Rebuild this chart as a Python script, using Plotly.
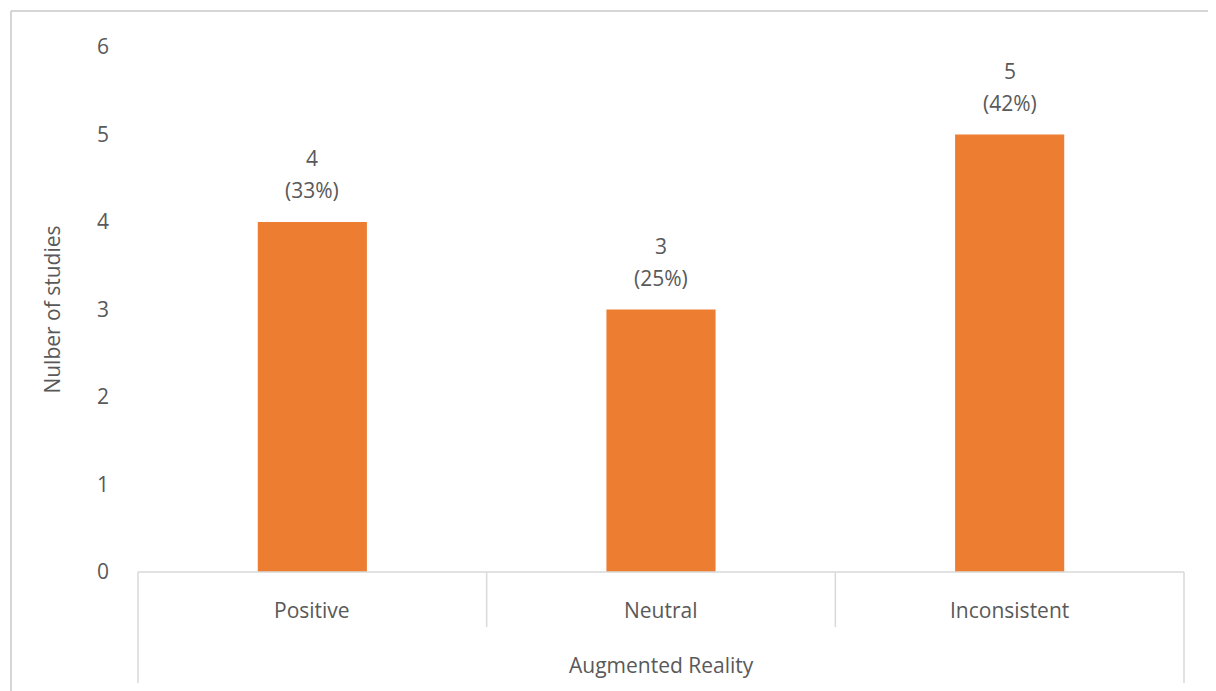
import plotly.graph_objects as go

categories = ["Positive", "Neutral", "Inconsistent"]
counts = [4, 3, 5]
pct_labels = ["(33%)", "(25%)", "(42%)"]
group_label = "Augmented Reality"
y_title = "Nulber of studies"
y_ticks = [0, 1, 2, 3, 4, 5, 6]

OFF = 8  # page body margin
W, H = 1216 - OFF, 691 - OFF
L, R, T, B = 138 - OFF, 32, 47 - OFF, 119
PW, PH = W - L - R, H - T - B

def px(x):
    return (x - OFF - L) / PW

def py(y):
    return (T + PH - (y - OFF)) / PH

FONT = "Open Sans"
TXT = "#595959"
GRID = "#d9d9d9"
FS = 21

fig = go.Figure()
fig.add_trace(go.Bar(
    x=categories, y=counts,
    marker=dict(color="#ED7D31", line=dict(width=0)),
    hoverinfo="skip",
))

ann = []
for c, v, p in zip(categories, counts, pct_labels):
    ann.append(dict(x=c, y=v, xref="x", yref="y", text=p, showarrow=False,
                    yanchor="bottom", yshift=16, font=dict(family=FONT, size=FS, color=TXT)))
    ann.append(dict(x=c, y=v, xref="x", yref="y", text=str(v), showarrow=False,
                    yanchor="bottom", yshift=48, font=dict(family=FONT, size=FS, color=TXT)))
    ann.append(dict(x=c, y=py(610), xref="x", yref="paper", text=c, showarrow=False,
                    yanchor="middle", font=dict(family=FONT, size=FS, color=TXT)))

ann.append(dict(x=0.5, y=py(665), xref="paper", yref="paper", text=group_label, showarrow=False,
                yanchor="middle", font=dict(family=FONT, size=FS, color=TXT)))

shapes = []
line = dict(color=GRID, width=1.5)
shapes.append(dict(type="line", xref="paper", yref="paper", x0=0, x1=1, y0=0, y1=0, line=line))
for xx in [0, 1]:
    shapes.append(dict(type="line", xref="paper", yref="paper", x0=xx, x1=xx,
                       y0=0, y1=py(683), line=line))
for i in range(1, len(categories)):
    xx = i / len(categories)
    shapes.append(dict(type="line", xref="paper", yref="paper", x0=xx, x1=xx,
                       y0=0, y1=py(627), line=line))
border = dict(color="#c8c8c8", width=1.5)
shapes.append(dict(type="line", xref="paper", yref="paper", x0=px(11), x1=px(1216),
                   y0=py(11), y1=py(11), line=border))
shapes.append(dict(type="line", xref="paper", yref="paper", x0=px(11), x1=px(11),
                   y0=py(11), y1=py(691), line=border))

fig.update_layout(
    width=W, height=H,
    margin=dict(l=L, r=R, t=T, b=B, autoexpand=False),
    paper_bgcolor="white", plot_bgcolor="white",
    bargap=0.687,
    showlegend=False,
    annotations=ann,
    shapes=shapes,
    font=dict(family=FONT, size=FS, color=TXT),
    xaxis=dict(range=[-0.5, 2.5], showticklabels=False, showgrid=False, zeroline=False,
               showline=False, ticks=""),
    yaxis=dict(range=[0, 6], tickvals=y_ticks, showgrid=False, zeroline=False, showline=False,
               ticks="", ticklabelstandoff=28,
               tickfont=dict(family=FONT, size=FS, color=TXT),
               title=dict(text=y_title, standoff=30, font=dict(family=FONT, size=FS, color=TXT))),
)

fig.write_html("out.html")
